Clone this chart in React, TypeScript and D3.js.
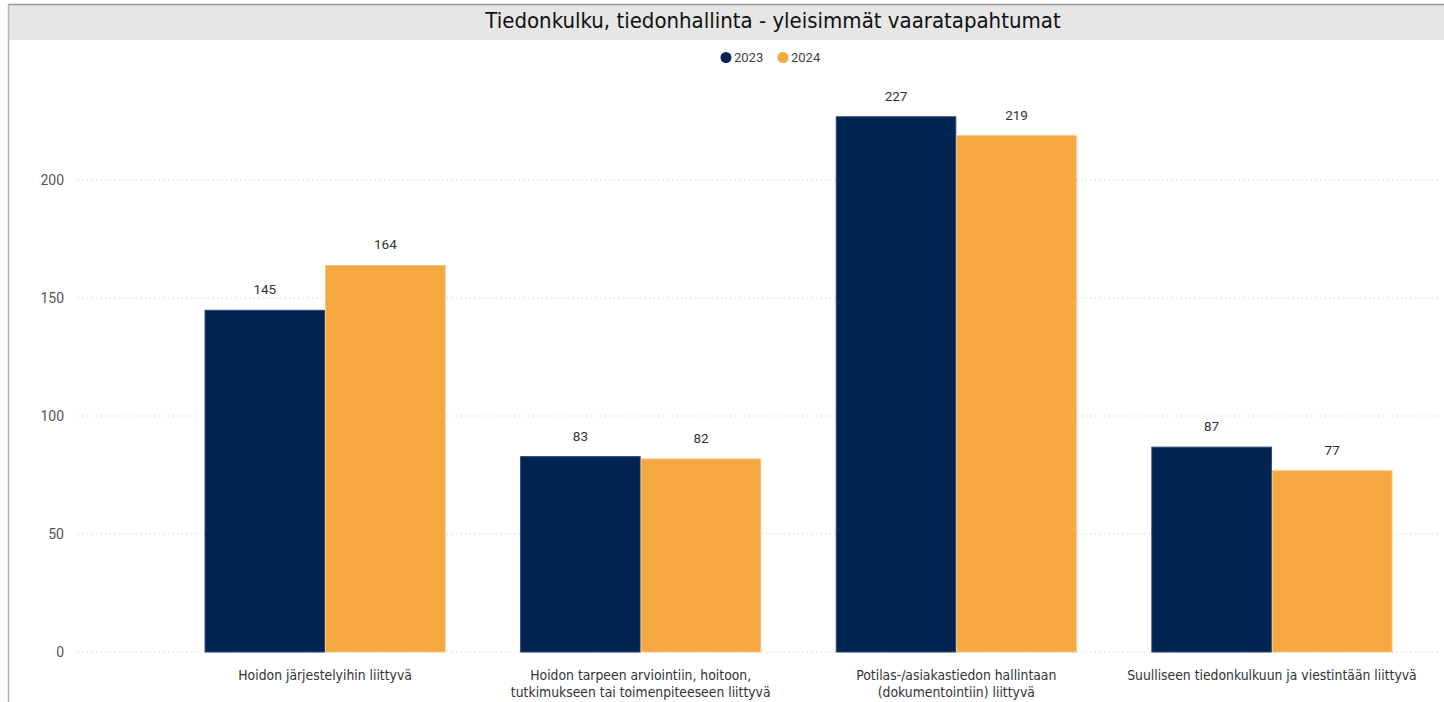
import React from "react";
import * as d3 from "d3";

const categories: string[][] = [
  ["Hoidon järjestelyihin liittyvä"],
  ["Hoidon tarpeen arviointiin, hoitoon,", "tutkimukseen tai toimenpiteeseen liittyvä"],
  ["Potilas-/asiakastiedon hallintaan", "(dokumentointiin) liittyvä"],
  ["Suulliseen tiedonkulkuun ja viestintään liittyvä"],
];
const series = ["2023", "2024"];
const values2023 = [145, 83, 227, 87];
const values2024 = [164, 82, 219, 77];
const yTicks = [0, 50, 100, 150, 200];
const title = "Tiedonkulku, tiedonhallinta - yleisimmät vaaratapahtumat";
const colors = ["#022452", "#F5A840"];
const strokeColors = ["#2a4670", "#f8c27a"];

const W = 1444;
const H = 702;
const narrow = "'Liberation Sans Narrow', 'DejaVu Sans Condensed', 'Roboto', sans-serif";
const roboto = "Roboto, 'Noto Sans', sans-serif";

export default function App() {
  const x0 = d3.scaleBand<number>().domain(d3.range(categories.length)).range([167.3, 1429.7]).paddingInner(0.236).paddingOuter(0.118);
  const x1 = d3.scaleBand<string>().domain(series).range([0, x0.bandwidth()]).padding(0);
  const y = d3.scaleLinear().domain([0, 200]).range([652, 180]);
  const data = [values2023, values2024];

  return (
    <svg width={W} height={H} style={{ position: "absolute", left: 0, top: 0, background: "#fff" }}>
      {/* frame */}
      <rect x={8} y={4} width={1436} height={36} fill="#e6e6e6" />
      <line x1={8} y1={4.5} x2={1444} y2={4.5} stroke="#9a9a9a" strokeWidth={1.5} />
      <line x1={8.5} y1={4} x2={8.5} y2={702} stroke="#b4b4b4" strokeWidth={1.5} />
      <text x={773} y={28} textAnchor="middle" fontFamily={narrow} fontSize={22} fill="#111">{title}</text>

      {/* legend */}
      {series.map((s, i) => {
        const lx = 726 + i * 57;
        return (
          <g key={s}>
            <circle cx={lx} cy={57.5} r={5.5} fill={colors[i]} />
            <text x={lx + 8} y={62} fontFamily={roboto} fontSize={13} fill="#444">{s}</text>
          </g>
        );
      })}

      {/* grid */}
      {yTicks.map((t) => (
        <g key={t}>
          <line x1={78} x2={1440} y1={y(t)} y2={y(t)} stroke="#c4c4c4" strokeWidth={1} strokeDasharray="1 3.5" />
          <text x={64} y={y(t) + 5} textAnchor="end" fontFamily={roboto} fontSize={14} fill="#555">{t}</text>
        </g>
      ))}

      {/* bars */}
      {categories.map((c, ci) => (
        <g key={ci} transform={`translate(${x0(ci)},0)`}>
          {series.map((s, si) => {
            const v = data[si][ci];
            const bx = x1(s)!;
            return (
              <g key={s}>
                <rect x={bx + 0.5} y={y(v) + 0.5} width={x1.bandwidth() - 1} height={y(0) - y(v) - 0.5} fill={colors[si]} stroke={strokeColors[si]} strokeWidth={1} />
                <text x={bx + x1.bandwidth() / 2} y={y(v) - 15.5} textAnchor="middle" fontFamily={roboto} fontSize={13.5} fill="#333">{v}</text>
              </g>
            );
          })}
          {c.map((line, li) => (
            <text key={li} x={x0.bandwidth() / 2} y={680 + li * 17} textAnchor="middle" fontFamily={narrow} fontSize={13.8} fill="#333">{line}</text>
          ))}
        </g>
      ))}
    </svg>
  );
}
